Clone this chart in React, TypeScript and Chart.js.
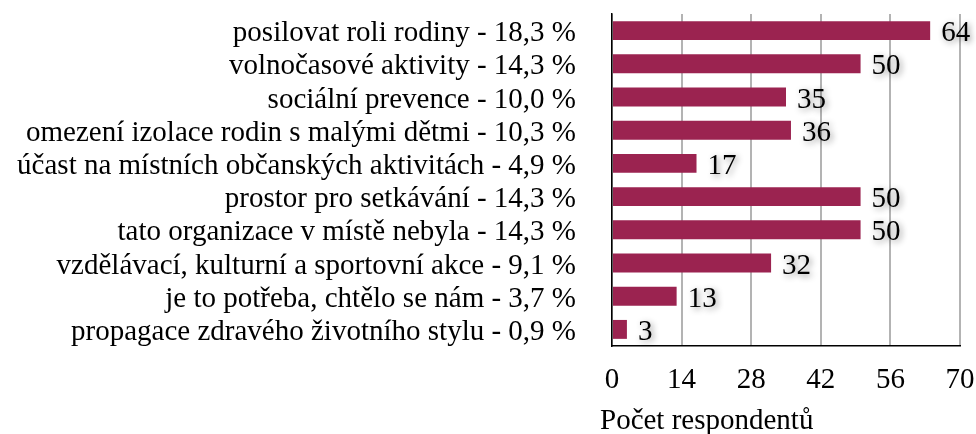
import React, { useEffect, useRef } from "react";
import { Chart, registerables } from "chart.js";

Chart.register(...registerables);

const categories = [
  "posilovat roli rodiny - 18,3 %",
  "volnočasové aktivity - 14,3 %",
  "sociální prevence - 10,0 %",
  "omezení izolace rodin s malými dětmi - 10,3 %",
  "účast na místních občanských aktivitách - 4,9 %",
  "prostor pro setkávání - 14,3 %",
  "tato organizace v místě nebyla - 14,3 %",
  "vzdělávací, kulturní a sportovní akce - 9,1 %",
  "je to potřeba, chtělo se nám - 3,7 %",
  "propagace zdravého životního stylu - 0,9 %",
];
const values = [64, 50, 35, 36, 17, 50, 50, 32, 13, 3];
const xMin = 0;
const xMax = 70;
const xStep = 14;
const axisTitle = "Počet respondentů";

const FONT = "'Liberation Serif', 'Times New Roman', serif";
const FS = 29;

const valueLabels = {
  id: "valueLabels",
  afterDatasetsDraw(chart: any) {
    const ctx = chart.ctx;
    const meta = chart.getDatasetMeta(0);
    ctx.save();
    ctx.font = `${FS}px ${FONT}`;
    ctx.fillStyle = "#000";
    ctx.textAlign = "left";
    ctx.textBaseline = "middle";
    ctx.shadowColor = "rgba(0,0,0,0.45)";
    ctx.shadowBlur = 6;
    ctx.shadowOffsetX = 2;
    ctx.shadowOffsetY = 2;
    meta.data.forEach((bar: any, i: number) => {
      ctx.fillText(String(values[i]), bar.x + 11, bar.y + 3);
    });
    ctx.restore();
  },
};

const xAxisTitle = {
  id: "xAxisTitle",
  afterDraw(chart: any) {
    const ctx = chart.ctx;
    const xs = chart.scales.x;
    ctx.save();
    ctx.font = `${FS}px ${FONT}`;
    ctx.fillStyle = "#000";
    ctx.textAlign = "left";
    ctx.textBaseline = "alphabetic";
    ctx.fillText(axisTitle, xs.left - 12, xs.bottom - 5);
    ctx.restore();
  },
};

export default function App() {
  const ref = useRef<HTMLCanvasElement | null>(null);
  useEffect(() => {
    document.body.style.margin = "0";
    const chart = new Chart(ref.current as HTMLCanvasElement, {
      type: "bar",
      data: {
        labels: categories,
        datasets: [
          {
            data: values,
            backgroundColor: "#9b2350",
            barPercentage: 0.57,
            categoryPercentage: 1,
          },
        ],
      },
      options: {
        indexAxis: "y",
        animation: false,
        responsive: false,
        maintainAspectRatio: false,
        layout: { padding: { top: 14, right: 16, bottom: 0, left: 0 } },
        plugins: { legend: { display: false }, tooltip: { enabled: false } },
        scales: {
          x: {
            min: xMin,
            max: xMax,
            afterFit(scale: any) {
              scale.height = 88;
              scale.paddingLeft = 0;
              scale.paddingRight = 0;
            },
            ticks: {
              stepSize: xStep,
              color: "#000",
              font: { family: FONT, size: FS },
              padding: 17,
            },
            grid: { color: "#b3b3b3", lineWidth: 2, drawTicks: false },
            border: { display: true, color: "#000", width: 1.5 },
          },
          y: {
            afterFit(scale: any) {
              scale.width = 612;
              scale.paddingTop = 0;
              scale.paddingBottom = 0;
            },
            ticks: {
              color: "#000",
              font: { family: FONT, size: FS },
              padding: 36,
              labelOffset: 3,
              autoSkip: false,
            },
            grid: { display: false, drawTicks: false },
            border: { display: true, color: "#000", width: 1.5 },
          },
        },
      },
      plugins: [valueLabels, xAxisTitle],
    });
    return () => chart.destroy();
  }, []);
  return (
    <div style={{ width: 976, height: 434 }}>
      <canvas ref={ref} width={976} height={434} style={{ display: "block" }} />
    </div>
  );
}
